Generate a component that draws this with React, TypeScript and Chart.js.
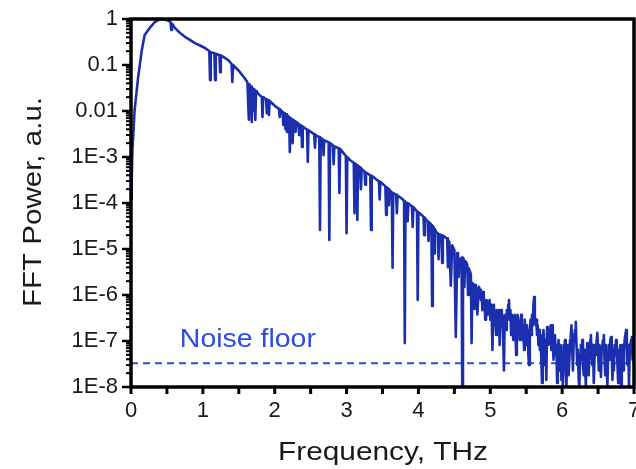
import React, { useEffect, useRef } from 'react';
import { Chart, registerables } from 'chart.js';

Chart.register(...registerables);

// Spectrum: frequency in THz, FFT power in a.u.
// Part 1: rise and main peak (0 - 1.5 THz)
const peakFreq = [
  0.00, 0.01, 0.02, 0.03, 0.05, 0.10, 0.15, 0.19, 0.26, 0.30,
  0.33, 0.38, 0.43, 0.47, 0.52, 0.55, 0.56, 0.57, 0.61, 0.68,
  0.75, 0.82, 0.89, 0.96, 1.03, 1.09, 1.10, 1.11, 1.16, 1.17,
  1.18, 1.23, 1.24, 1.25, 1.30, 1.36, 1.40, 1.41, 1.42, 1.50,
];
const peakPower = [
  1.2e-4, 3.2e-4, 1.5e-3, 2.7e-3, 1.05e-2, 0.055, 0.21, 0.45, 0.64, 0.75,
  0.86, 0.95, 1.0, 0.98, 0.92, 0.86, 0.58, 0.80, 0.64, 0.50,
  0.41, 0.35, 0.30, 0.265, 0.234, 0.20, 0.047, 0.19, 0.18, 0.047,
  0.175, 0.165, 0.070, 0.163, 0.145, 0.125, 0.105, 0.043, 0.10, 0.075,
];

// Part 2: decaying slope with water-vapour absorption dips (1.58 - 4.84 THz)
const slopeFreq = [
  1.58, 1.62, 1.64, 1.65, 1.66, 1.67, 1.68, 1.69, 1.70, 1.71,
  1.72, 1.73, 1.74, 1.75, 1.78, 1.82, 1.83, 1.84, 1.88, 1.89,
  1.90, 1.91, 1.92, 1.93, 2.00, 2.06, 2.07, 2.08, 2.11, 2.12,
  2.13, 2.14, 2.15, 2.16, 2.17, 2.18, 2.20, 2.21, 2.22, 2.24,
  2.25, 2.26, 2.28, 2.29, 2.30, 2.33, 2.34, 2.35, 2.37, 2.38,
  2.39, 2.45, 2.46, 2.47, 2.53, 2.55, 2.56, 2.57, 2.62, 2.63,
  2.64, 2.67, 2.68, 2.69, 2.75, 2.76, 2.77, 2.81, 2.82, 2.83,
  2.89, 2.90, 2.91, 2.96, 2.99, 3.00, 3.01, 3.05, 3.10, 3.11,
  3.12, 3.14, 3.15, 3.16, 3.19, 3.20, 3.21, 3.25, 3.26, 3.27,
  3.33, 3.34, 3.35, 3.42, 3.45, 3.46, 3.47, 3.54, 3.55, 3.56,
  3.58, 3.59, 3.60, 3.63, 3.64, 3.65, 3.69, 3.70, 3.71, 3.74,
  3.78, 3.80, 3.81, 3.82, 3.84, 3.85, 3.86, 3.91, 3.92, 3.93,
  3.98, 3.99, 4.00, 4.06, 4.07, 4.08, 4.09, 4.11, 4.13, 4.14,
  4.15, 4.18, 4.19, 4.20, 4.21, 4.22, 4.23, 4.25, 4.27, 4.28,
  4.29, 4.32, 4.33, 4.34, 4.39, 4.40, 4.41, 4.42, 4.43, 4.45,
  4.47, 4.50, 4.52, 4.54, 4.55, 4.56, 4.57, 4.60, 4.61, 4.62,
  4.63, 4.64, 4.65, 4.67, 4.68, 4.69, 4.70, 4.71, 4.73, 4.74,
  4.75, 4.77, 4.78, 4.79, 4.80, 4.82, 4.84,
];
const slopePower = [
  0.052, 0.042, 0.0065, 0.038, 0.012, 0.034, 0.0058, 0.031, 0.010, 0.030,
  0.029, 0.0064, 0.027, 0.026, 0.023, 0.020, 0.0074, 0.020, 0.018, 0.009,
  0.0175, 0.017, 0.0082, 0.0165, 0.013, 0.011, 0.0074, 0.0105, 0.0095, 0.005,
  0.009, 0.0088, 0.004, 0.0085, 0.0035, 0.008, 0.0072, 0.00128, 0.0070, 0.0066,
  0.0020, 0.0064, 0.006, 0.0035, 0.0058, 0.0053, 0.003, 0.005, 0.0048, 0.00165,
  0.0046, 0.0039, 7.8e-4, 0.0038, 0.0033, 0.0031, 0.0016, 0.003, 0.0027, 2.6e-5,
  0.0026, 0.0024, 0.0011, 0.0023, 0.0021, 1.57e-5, 0.0020, 0.0018, 7e-4, 0.0017,
  0.00155, 1.65e-4, 0.0015, 0.0012, 0.00105, 2.2e-5, 0.001, 8.5e-4, 7.5e-4, 6.0e-5,
  7.2e-4, 6.8e-4, 4.3e-5, 6.5e-4, 5.8e-4, 2.0e-4, 5.5e-4, 4.8e-4, 2.5e-4, 4.6e-4,
  4.0e-4, 2.6e-5, 3.9e-4, 3.2e-4, 3.0e-4, 1.2e-4, 2.9e-4, 2.3e-4, 5.5e-5, 2.2e-4,
  2.0e-4, 9e-5, 1.9e-4, 1.7e-4, 3.9e-6, 1.65e-4, 1.5e-4, 6e-5, 1.45e-4, 1.35e-4,
  1.2e-4, 1.1e-4, 9.0e-8, 1.05e-4, 1.0e-4, 4e-5, 9.8e-5, 8.5e-5, 3e-5, 8.2e-5,
  6.6e-5, 7.8e-7, 6.3e-5, 5.2e-5, 5.0e-5, 2e-5, 4.8e-5, 4.3e-5, 4.0e-5, 1.5e-5,
  3.8e-5, 3.4e-5, 5.8e-7, 3.2e-5, 3.0e-5, 8e-6, 2.7e-5, 2.3e-5, 2.2e-5, 6e-6,
  2.1e-5, 2.0e-5, 5e-6, 1.95e-5, 1.73e-5, 1.7e-5, 4e-6, 1.5e-5, 1.42e-5, 1.6e-6,
  1.2e-5, 9.5e-6, 1.22e-7, 8.2e-6, 7.5e-6, 2.5e-6, 5.8e-6, 6.5e-6, 1e-8, 6.5e-6,
  6.0e-6, 1.5e-6, 5.5e-6, 5.0e-6, 4.5e-6, 1e-6, 3.8e-6, 3.5e-6, 2.8e-6, 9.0e-8,
  1.82e-6, 1.7e-6, 5e-7, 1.65e-6, 1.6e-6, 3.8e-7, 1.5e-6,
];

// Part 3: noisy tail reaching the noise floor (4.86 - 7.00 THz)
const tailFreq = [
  4.86, 4.87, 4.88, 4.89, 4.90, 4.91, 4.92, 4.93, 4.94, 4.95,
  4.96, 4.97, 4.98, 4.99, 5.00, 5.01, 5.02, 5.03, 5.04, 5.05,
  5.06, 5.07, 5.08, 5.09, 5.10, 5.11, 5.12, 5.13, 5.14, 5.15,
  5.16, 5.17, 5.18, 5.19, 5.20, 5.21, 5.22, 5.23, 5.24, 5.25,
  5.26, 5.27, 5.28, 5.29, 5.30, 5.31, 5.32, 5.33, 5.34, 5.35,
  5.36, 5.37, 5.38, 5.39, 5.40, 5.41, 5.42, 5.43, 5.44, 5.45,
  5.46, 5.47, 5.48, 5.49, 5.50, 5.51, 5.52, 5.53, 5.54, 5.55,
  5.56, 5.57, 5.58, 5.59, 5.60, 5.61, 5.62, 5.63, 5.64, 5.65,
  5.66, 5.67, 5.68, 5.69, 5.70, 5.71, 5.72, 5.73, 5.74, 5.75,
  5.76, 5.77, 5.78, 5.79, 5.80, 5.81, 5.82, 5.83, 5.84, 5.85,
  5.86, 5.87, 5.88, 5.89, 5.90, 5.91, 5.92, 5.93, 5.94, 5.95,
  5.96, 5.97, 5.98, 5.99, 6.00, 6.01, 6.02, 6.03, 6.04, 6.05,
  6.06, 6.07, 6.08, 6.09, 6.10, 6.11, 6.12, 6.13, 6.14, 6.15,
  6.16, 6.17, 6.18, 6.19, 6.20, 6.21, 6.22, 6.23, 6.24, 6.25,
  6.26, 6.27, 6.28, 6.29, 6.30, 6.31, 6.32, 6.33, 6.34, 6.35,
  6.36, 6.37, 6.38, 6.39, 6.40, 6.41, 6.42, 6.43, 6.44, 6.45,
  6.46, 6.47, 6.48, 6.49, 6.50, 6.51, 6.52, 6.53, 6.54, 6.55,
  6.56, 6.57, 6.58, 6.59, 6.60, 6.61, 6.62, 6.63, 6.64, 6.65,
  6.66, 6.67, 6.68, 6.69, 6.70, 6.71, 6.72, 6.73, 6.74, 6.75,
  6.76, 6.77, 6.78, 6.79, 6.80, 6.81, 6.82, 6.83, 6.84, 6.85,
  6.86, 6.87, 6.88, 6.89, 6.90, 6.91, 6.92, 6.93, 6.94, 6.95,
  6.96, 6.97, 6.98, 6.99, 7.00,
];
const tailPower = [
  1.28e-6, 7.8e-7, 1.0e-6, 4.7e-7, 1.16e-6, 6.1e-7, 7.8e-7, 2.9e-7, 6.1e-7, 7.8e-7,
  3.7e-7, 6.1e-7, 4.7e-7, 7.8e-7, 2.9e-7, 6.1e-7, 3.7e-7, 6.4e-8, 4.7e-7, 6.1e-7,
  2.2e-7, 3.7e-7, 1.35e-7, 4.7e-7, 1.74e-7, 3.7e-7, 4.7e-7, 8.2e-8, 2.9e-7, 4.7e-7,
  2.2e-7, 3.7e-7, 1.05e-7, 2.3e-8, 2.9e-7, 3.7e-7, 1.74e-7, 4.7e-7, 2.9e-7, 6.1e-7,
  7.8e-7, 2.9e-7, 4.7e-7, 1.35e-7, 3.7e-7, 2.2e-7, 1.05e-7, 2.9e-7, 3.7e-7, 1.74e-7,
  5.0e-8, 2.9e-7, 3.7e-7, 1.35e-7, 2.2e-7, 1.05e-7, 2.9e-7, 3.7e-7, 1.05e-7, 2.2e-7,
  1.74e-7, 6.4e-8, 2.9e-7, 1.35e-7, 2.2e-7, 8.2e-8, 1.74e-7, 5.0e-8, 3.0e-8, 1.74e-7,
  2.9e-7, 1.35e-7, 3.7e-7, 2.2e-7, 6.1e-7, 9.0e-7, 3.7e-7, 2.2e-7, 2.9e-7, 1.35e-7,
  2.2e-7, 8.2e-8, 1.74e-7, 6.4e-8, 1.35e-7, 3.9e-8, 1.22e-8, 1.05e-7, 1.74e-7, 8.2e-8,
  3.0e-8, 1.05e-7, 1.42e-8, 2.0e-7, 1.35e-7, 8.2e-8, 1.74e-7, 1.05e-7, 2.2e-7, 6.4e-8,
  2.2e-7, 8.2e-8, 3.9e-8, 1.05e-7, 1.35e-7, 5.0e-8, 8.2e-8, 1.22e-8, 6.4e-8, 1.05e-7,
  2.3e-8, 6.4e-8, 8.2e-8, 1.42e-8, 5.0e-8, 1e-8, 8.2e-8, 6.4e-8, 1.05e-7, 2.3e-8,
  1e-8, 6.4e-8, 8.2e-8, 1.8e-8, 3.9e-8, 1.05e-7, 1.35e-7, 2.2e-7, 6.4e-8, 2.3e-8,
  8.2e-8, 1.35e-7, 1.74e-7, 2.6e-7, 8.2e-8, 3.0e-8, 6.4e-8, 1.42e-8, 1e-8, 5.0e-8,
  8.2e-8, 3.9e-8, 1.05e-7, 3.0e-8, 1.8e-8, 6.4e-8, 2.3e-8, 1.1e-8, 5.0e-8, 9.0e-8,
  3.9e-8, 1.8e-8, 6.4e-8, 1.05e-7, 1.35e-7, 5.0e-8, 3.0e-8, 8.2e-8, 1.22e-8, 3.9e-8,
  8.2e-8, 5.0e-8, 1.05e-7, 1.5e-7, 6.4e-8, 2.3e-8, 8.2e-8, 3.9e-8, 1.65e-8, 6.4e-8,
  8.2e-8, 1.05e-7, 1.35e-7, 3.9e-8, 1.8e-8, 8.2e-8, 3.0e-8, 1.1e-8, 5.0e-8, 8.2e-8,
  3.9e-8, 1.05e-7, 1.22e-7, 5.0e-8, 1.42e-8, 6.4e-8, 2.3e-8, 8.2e-8, 5.0e-8, 1.05e-7,
  8.2e-8, 3.0e-8, 1.22e-8, 6.4e-8, 3.9e-8, 8.2e-8, 1e-8, 5.0e-8, 8.2e-8, 2.3e-8,
  6.4e-8, 1.05e-7, 1.35e-7, 1.74e-7, 6.4e-8, 3.0e-8, 8.2e-8, 1.1e-8, 5.0e-8, 8.2e-8,
  1.05e-7, 1.22e-7, 3.9e-8, 6.4e-8, 3.0e-8,
];

const noiseFloorPower = 3.3e-8;
const noiseFloorFreqs = [0, 7];
const noiseLabelText = 'Noise floor';
const noiseLabelFreq = 0.68;
const noiseLabelPower = 7.4e-8;

const yTickValues = [1e-8, 1e-7, 1e-6, 1e-5, 1e-4, 1e-3, 0.01, 0.1, 1];
const yTickLabels = ['1E-8', '1E-7', '1E-6', '1E-5', '1E-4', '1E-3', '0.01', '0.1', '1'];
const xTickValues = [0, 1, 2, 3, 4, 5, 6, 7];
const xMinorTickValues = [0.5, 1.5, 2.5, 3.5, 4.5, 5.5, 6.5];

const xTitle = 'Frequency, THz';
const yTitle = 'FFT Power, a.u.';

const FONT = "'Liberation Sans', Arial, Helvetica, sans-serif";
const LINE_COLOR = '#1b2fae';
const NOISE_COLOR = '#2b4de0';
const TEXT_COLOR = '#1a1a1a';

function stretchText(ctx: CanvasRenderingContext2D, text: string, x: number, y: number, width: number, size: number, color: string) {
  ctx.save();
  ctx.font = `${size}px ${FONT}`;
  ctx.fillStyle = color;
  ctx.textAlign = 'left';
  ctx.textBaseline = 'alphabetic';
  const w = ctx.measureText(text).width;
  ctx.translate(x, y);
  ctx.scale(width / w, 1);
  ctx.fillText(text, 0, 0);
  ctx.restore();
}

const decorPlugin = {
  id: 'decor',
  afterDraw(chart: any) {
    const { ctx, chartArea: a } = chart;
    const xs = chart.scales.x;
    const ys = chart.scales.y;
    const line = (x1: number, y1: number, x2: number, y2: number) => {
      ctx.beginPath();
      ctx.moveTo(x1, y1);
      ctx.lineTo(x2, y2);
      ctx.stroke();
    };
    ctx.save();
    ctx.strokeStyle = '#000';
    ctx.lineWidth = 2;
    for (let i = 0; i < yTickValues.length - 1; i++) {
      for (let k = 2; k <= 9; k++) {
        const py = ys.getPixelForValue(yTickValues[i] * k);
        line(a.left - 5, py, a.left, py);
      }
    }
    ctx.lineWidth = 2.5;
    yTickValues.forEach((v) => {
      const py = ys.getPixelForValue(v);
      line(a.left - 9, py, a.left, py);
    });
    ctx.lineWidth = 3;
    [...xTickValues, ...xMinorTickValues].forEach((v) => {
      const px = xs.getPixelForValue(v);
      line(px, a.bottom, px, a.bottom + 7);
    });
    ctx.lineWidth = 3.5;
    ctx.strokeRect(a.left, a.top, a.right - a.left, a.bottom - a.top);
    ctx.restore();

    stretchText(ctx, noiseLabelText, xs.getPixelForValue(noiseLabelFreq), ys.getPixelForValue(noiseLabelPower), 136, 25, NOISE_COLOR);

    stretchText(ctx, xTitle, 278, 460, 210, 25, TEXT_COLOR);
    ctx.save();
    ctx.translate(41, 307);
    ctx.rotate(-Math.PI / 2);
    stretchText(ctx, yTitle, 0, 0, 210, 26, TEXT_COLOR);
    ctx.restore();
  },
};

export default function App() {
  const canvasRef = useRef<HTMLCanvasElement | null>(null);

  useEffect(() => {
    document.body.style.margin = '0';
    const canvas = canvasRef.current;
    if (!canvas) return;
    const freqs = [...peakFreq, ...slopeFreq, ...tailFreq];
    const powers = [...peakPower, ...slopePower, ...tailPower];
    const chart = new Chart(canvas, {
      type: 'line',
      data: {
        datasets: [
          {
            label: 'FFT power',
            data: freqs.map((f, i) => ({ x: f, y: powers[i] })),
            borderColor: LINE_COLOR,
            borderWidth: 2.6,
            borderJoinStyle: 'round',
            pointRadius: 0,
            tension: 0,
            fill: false,
          },
          {
            label: 'Noise floor',
            data: noiseFloorFreqs.map((f) => ({ x: f, y: noiseFloorPower })),
            borderColor: NOISE_COLOR,
            borderWidth: 2,
            borderDash: [7, 5],
            pointRadius: 0,
            fill: false,
          },
        ],
      },
      options: {
        animation: false,
        responsive: false,
        devicePixelRatio: 1,
        layout: { padding: { top: 19, right: 2, left: 0, bottom: 0 } },
        plugins: { legend: { display: false }, tooltip: { enabled: false } },
        scales: {
          x: {
            type: 'linear',
            min: 0,
            max: 7,
            afterBuildTicks: (s: any) => {
              s.ticks = xTickValues.map((v) => ({ value: v }));
            },
            afterFit: (s: any) => {
              s.height = 82;
              s.paddingLeft = 0;
              s.paddingRight = 0;
            },
            ticks: {
              autoSkip: false,
              maxRotation: 0,
              padding: 11,
              color: TEXT_COLOR,
              font: { family: FONT, size: 22 },
              callback: (v: any) => String(v),
            },
            grid: { display: false, drawTicks: false },
            border: { display: false },
          },
          y: {
            type: 'logarithmic',
            min: 1e-8,
            max: 1,
            afterBuildTicks: (s: any) => {
              s.ticks = yTickValues.map((v) => ({ value: v }));
            },
            afterFit: (s: any) => {
              s.width = 131;
              s.paddingTop = 0;
              s.paddingBottom = 0;
            },
            ticks: {
              autoSkip: false,
              padding: 13,
              color: TEXT_COLOR,
              font: { family: FONT, size: 22 },
              callback: (v: any) => {
                const i = yTickValues.findIndex((t) => Math.abs(Math.log10(t) - Math.log10(Number(v))) < 1e-6);
                return i >= 0 ? yTickLabels[i] : '';
              },
            },
            grid: { display: false, drawTicks: false },
            border: { display: false },
          },
        },
      },
      plugins: [decorPlugin],
    } as any);
    return () => chart.destroy();
  }, []);

  return (
    <div style={{ position: 'absolute', left: 0, top: 0, width: 636, height: 469, background: '#fff' }}>
      <canvas ref={canvasRef} width={636} height={469} style={{ display: 'block', width: 636, height: 469 }} />
    </div>
  );
}
